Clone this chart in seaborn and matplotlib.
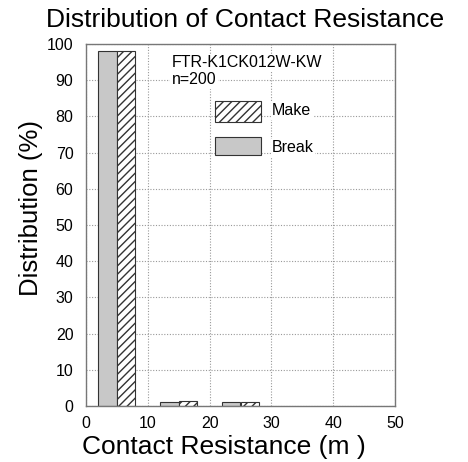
import matplotlib
matplotlib.use("Agg")
import matplotlib.pyplot as plt
import seaborn as sns
import pandas as pd
from matplotlib.patches import Rectangle

bins = [5, 15, 25]
break_vals = [98, 1, 1]
make_vals = [98, 1.5, 1]
series_names = ["Break", "Make"]

df = pd.DataFrame({
    "bin": bins * 2,
    "value": break_vals + make_vals,
    "series": ["Break"] * len(bins) + ["Make"] * len(bins),
})

sns.set_theme(style="white")
plt.rcParams["font.family"] = ["Liberation Sans", "DejaVu Sans"]
for k in ["text.color", "axes.labelcolor", "xtick.color", "ytick.color"]:
    plt.rcParams[k] = "black"

fig = plt.figure(figsize=(4.68, 4.62), dpi=100)
ax = fig.add_axes([86/468, 1 - 406/462, 309/468, 362/462])

sns.barplot(data=df, x="bin", y="value", hue="series", hue_order=series_names,
            native_scale=True, width=0.6, dodge=True,
            palette={"Break": "#c8c8c8", "Make": "white"},
            edgecolor="#333333", linewidth=0.8, ax=ax, legend=False)

for p in ax.patches:
    fc = p.get_facecolor()
    if fc[0] > 0.95:
        p.set_hatch("////")

ax.set_xlim(0, 50)
ax.set_ylim(0, 100)
ax.set_xticks([0, 10, 20, 30, 40, 50])
ax.set_yticks(range(0, 101, 10))
ax.tick_params(axis="both", direction="in", labelsize=11.5, length=4, color="#555555")
ax.tick_params(axis="y", pad=9)
ax.tick_params(axis="x", pad=7)
ax.grid(True, linestyle=(0, (1, 1.5)), color="#999999", linewidth=0.8)
ax.set_axisbelow(True)
for s in ax.spines.values():
    s.set_color("#777777")
    s.set_linewidth(1.0)

ax.set_xlabel("Contact Resistance (m )", fontsize=19)
ax.set_ylabel("Distribution (%)", fontsize=18.5)
ax.xaxis.set_label_coords(0.445, -0.08)
ax.yaxis.set_label_coords(-0.14, 0.547)
fig.text(245/468, 1 - 20/462, "Distribution of Contact Resistance", fontsize=19,
         ha="center", va="center")

ax.text(13.9, 94.8, "FTR-K1CK012W-KW", fontsize=11.5, va="center", ha="left",
        bbox=dict(facecolor="white", edgecolor="none", pad=1))
ax.text(13.9, 90.1, "n=200", fontsize=11.5, va="center", ha="left",
        bbox=dict(facecolor="white", edgecolor="none", pad=1))

ax.add_patch(Rectangle((20.9, 78.5), 7.4, 5.8, facecolor="white", edgecolor="#333333",
                       hatch="////", linewidth=0.8, zorder=5))
ax.add_patch(Rectangle((20.9, 69.3), 7.4, 5.0, facecolor="#c8c8c8", edgecolor="#333333",
                       linewidth=0.8, zorder=5))
ax.text(30.1, 81.5, "Make", fontsize=11.5, va="center", ha="left",
        bbox=dict(facecolor="white", edgecolor="none", pad=1), zorder=5)
ax.text(30.1, 71.3, "Break", fontsize=11.5, va="center", ha="left",
        bbox=dict(facecolor="white", edgecolor="none", pad=1), zorder=5)

fig.savefig("out.png", dpi=100)
